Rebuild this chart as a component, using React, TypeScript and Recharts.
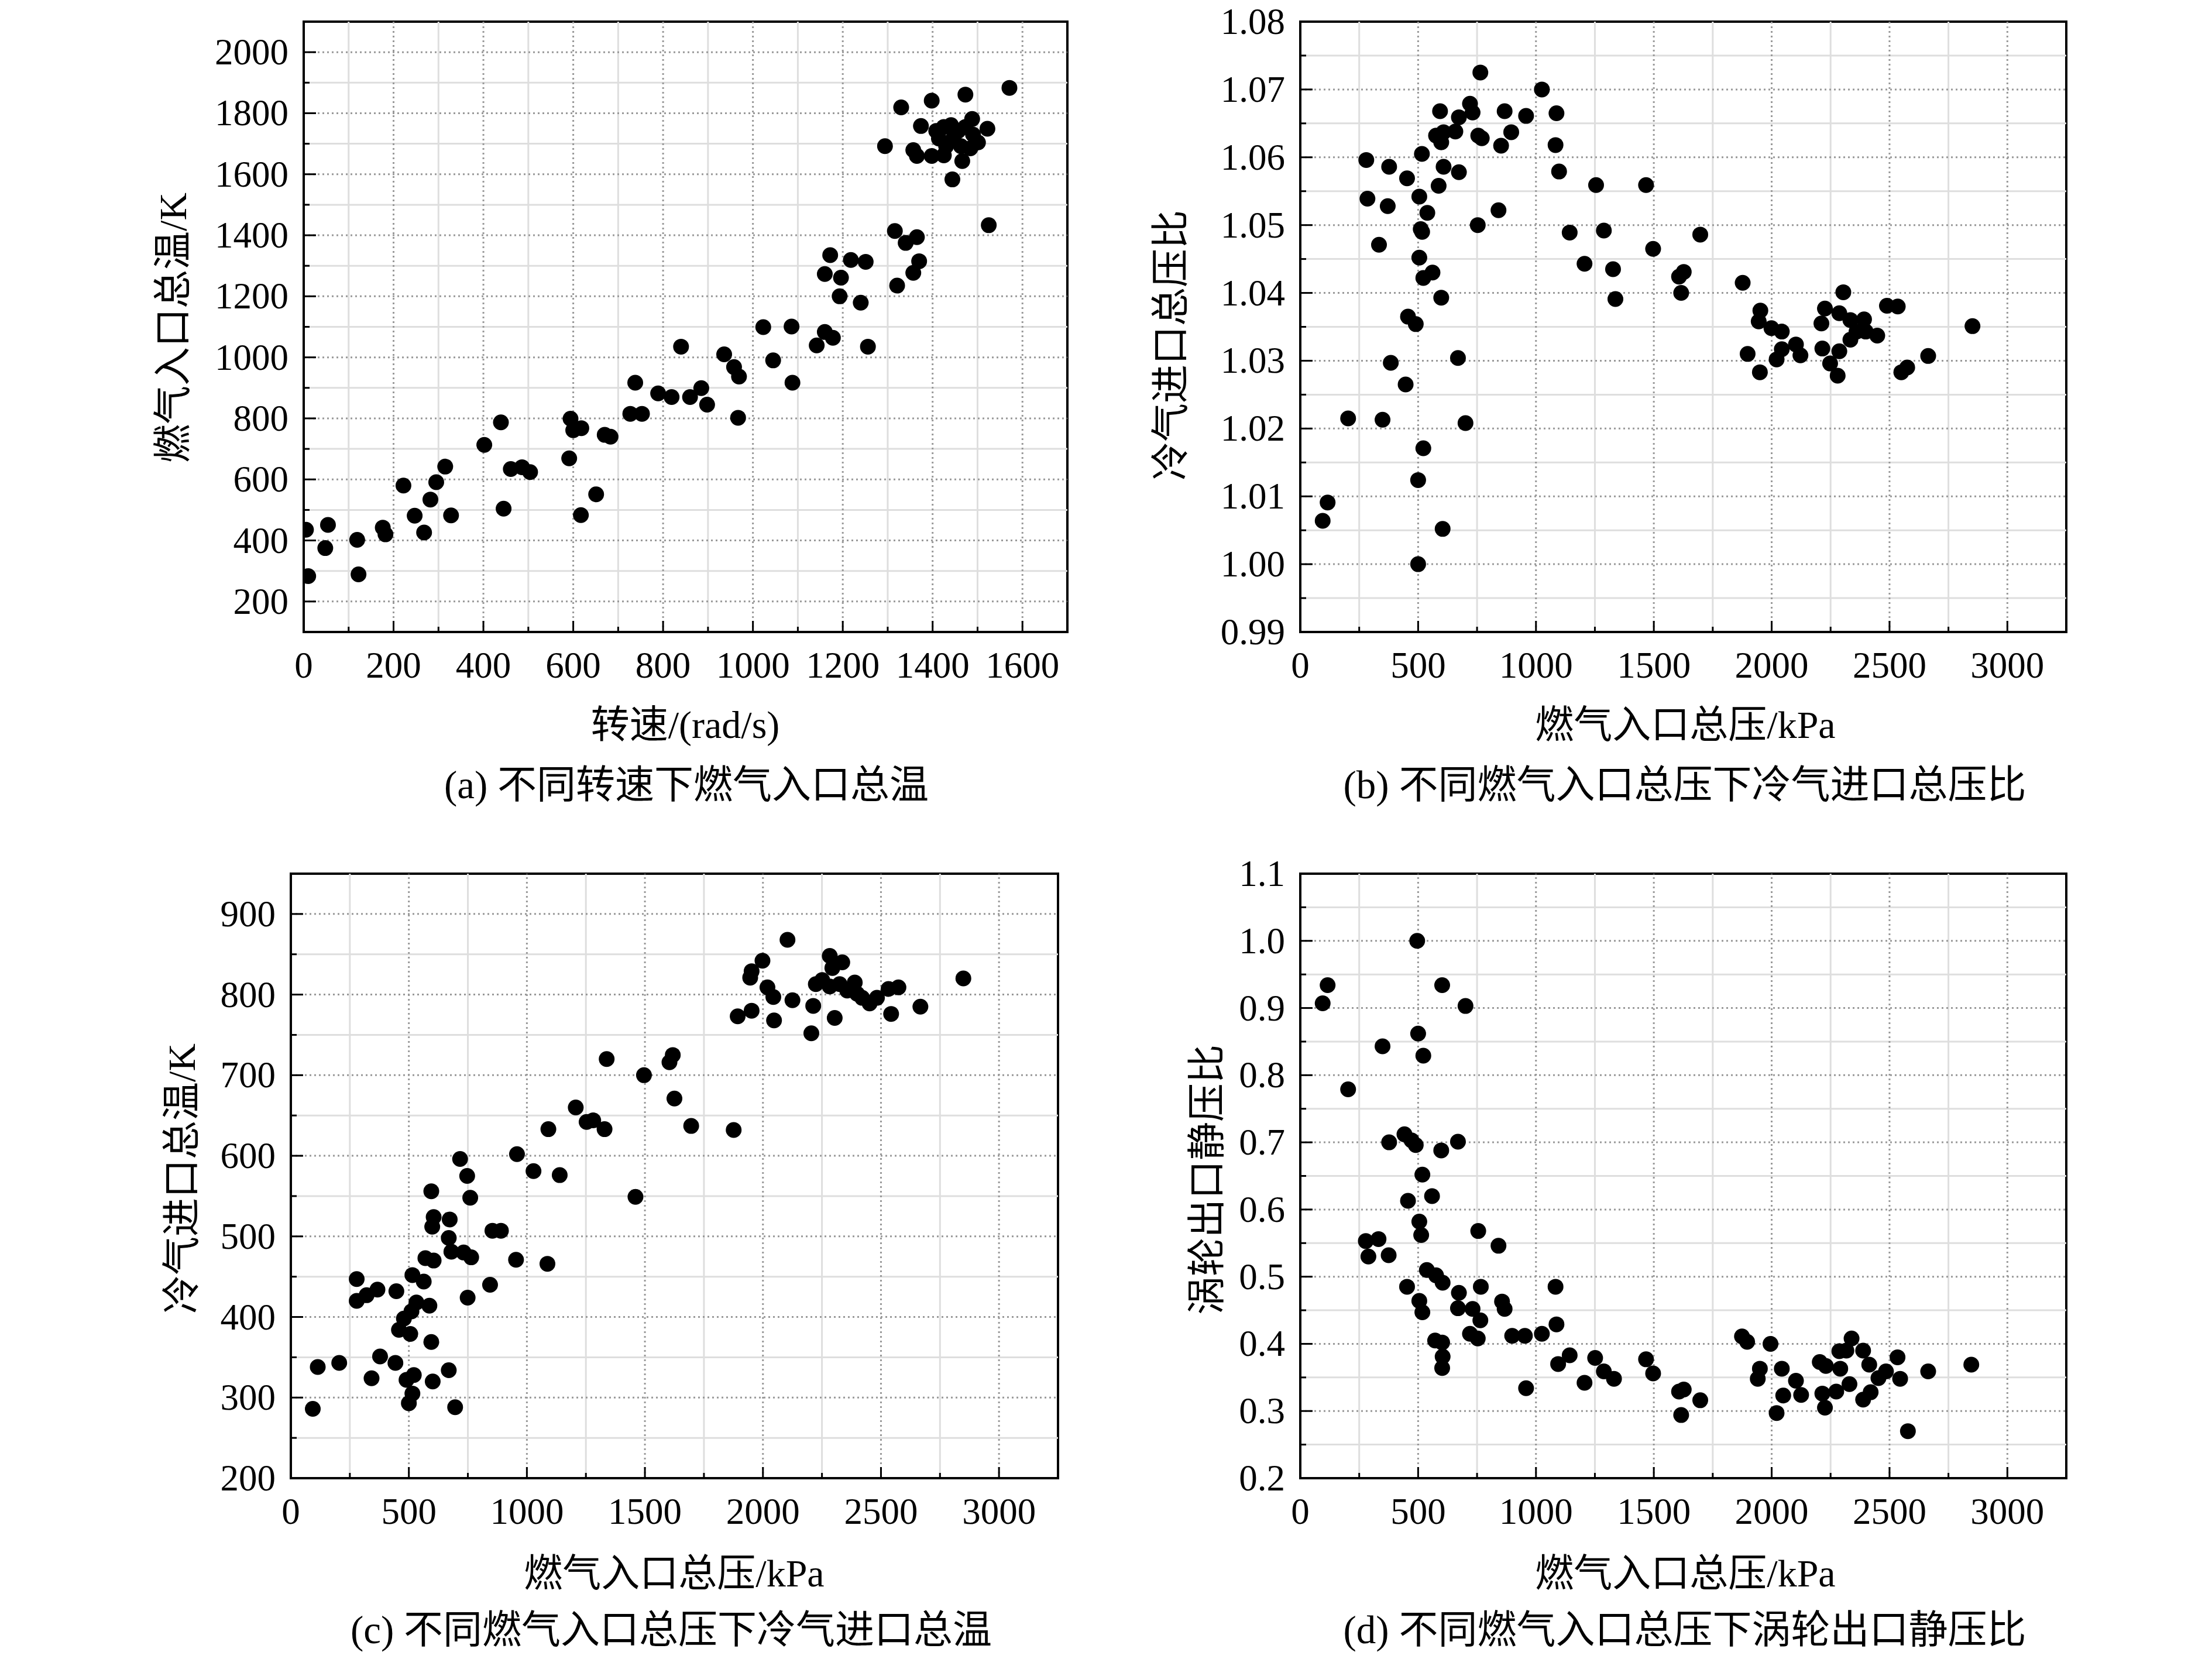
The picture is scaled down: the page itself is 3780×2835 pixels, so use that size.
import React from 'react';
import { ScatterChart, Scatter, XAxis, YAxis, ReferenceLine, ReferenceArea } from 'recharts';

const FONT = "'Liberation Serif', 'Times New Roman', 'Noto Sans CJK SC', serif";

// ---------- Panel (a): speed vs gas inlet total temperature ----------
const speedA = [5, 10, 54, 48, 119, 122, 176, 182, 222, 247, 268, 282, 295, 315, 328, 402, 439, 445, 461, 486, 504, 591, 594, 600, 618, 617, 651, 670, 683, 727, 738, 753, 789, 819, 840, 860, 885, 898, 936, 958, 969, 967, 1023, 1045, 1086, 1088, 1142, 1160, 1178, 1256, 1160, 1172, 1196, 1193, 1218, 1251, 1240, 1294, 1316, 1321, 1340, 1365, 1370, 1357, 1330, 1398, 1473, 1571, 1374, 1357, 1365, 1398, 1425, 1444, 1466, 1522, 1525, 1408, 1425, 1441, 1457, 1473, 1488, 1490, 1501, 1414, 1446, 1463, 1484, 1430];
const gasTempA = [435, 283, 451, 375, 402, 289, 442, 420, 580, 481, 426, 534, 591, 642, 482, 713, 787, 504, 634, 640, 624, 669, 799, 761, 768, 483, 551, 746, 740, 815, 917, 815, 882, 870, 1035, 870, 899, 845, 1010, 968, 937, 802, 1099, 990, 1101, 917, 1039, 1083, 1064, 1035, 1273, 1335, 1261, 1200, 1319, 1313, 1179, 1692, 1414, 1235, 1375, 1394, 1315, 1277, 1819, 1841, 1861, 1883, 1758, 1679, 1660, 1660, 1662, 1583, 1643, 1749, 1433, 1742, 1755, 1761, 1742, 1755, 1781, 1730, 1704, 1717, 1717, 1692, 1685, 1692];

// ---------- Panel (b): gas inlet total pressure vs coolant inlet total pressure ratio ----------
const pressureB = [95, 116, 203, 349, 280, 285, 334, 371, 377, 384, 447, 453, 457, 490, 500, 500, 522, 505, 505, 516, 511, 517, 539, 522, 561, 587, 598, 604, 593, 576, 608, 598, 608, 673, 658, 673, 720, 731, 764, 755, 770, 753, 701, 669, 841, 852, 867, 895, 958, 1025, 1087, 1083, 1098, 1143, 1206, 1255, 1288, 1327, 1337, 1467, 1497, 1607, 1627, 1616, 1697, 1877, 1898, 1952, 1945, 1950, 1999, 2043, 2021, 2043, 2103, 2122, 2211, 2226, 2215, 2248, 2280, 2304, 2287, 2287, 2334, 2334, 2360, 2392, 2399, 2448, 2489, 2535, 2550, 2575, 2664, 2852];
const ratioB = [1.0064, 1.0091, 1.0215, 1.0213, 1.0596, 1.0539, 1.0471, 1.0528, 1.0586, 1.0297, 1.0265, 1.0569, 1.0365, 1.0354, 1.0000, 1.0124, 1.0171, 1.0452, 1.0542, 1.0605, 1.0494, 1.049, 1.0518, 1.0422, 1.043, 1.0558, 1.0393, 1.0052, 1.0668, 1.0632, 1.0637, 1.0622, 1.0586, 1.0578, 1.0638, 1.0659, 1.0679, 1.0666, 1.0725, 1.0632, 1.0628, 1.05, 1.0208, 1.0304, 1.0522, 1.0617, 1.0668, 1.0637, 1.0661, 1.07, 1.0665, 1.0618, 1.0579, 1.0489, 1.0443, 1.0559, 1.0492, 1.0435, 1.0391, 1.0559, 1.0465, 1.0424, 1.0431, 1.04, 1.0486, 1.0415, 1.031, 1.0374, 1.0358, 1.0283, 1.0348, 1.0343, 1.0302, 1.0317, 1.0324, 1.0308, 1.0355, 1.0377, 1.0318, 1.0296, 1.0278, 1.0401, 1.037, 1.0314, 1.036, 1.0331, 1.0343, 1.0361, 1.0343, 1.0337, 1.0381, 1.038, 1.0283, 1.029, 1.0307, 1.0351];

// ---------- Panel (c): gas inlet total pressure vs coolant inlet total temperature ----------
const pressureC = [93, 114, 205, 279, 279, 321, 367, 342, 378, 443, 447, 458, 479, 506, 490, 521, 515, 500, 515, 532, 511, 563, 587, 595, 601, 570, 605, 595, 605, 599, 673, 669, 680, 732, 764, 669, 696, 717, 747, 760, 749, 844, 854, 890, 958, 954, 1028, 1091, 1087, 1139, 1207, 1253, 1281, 1329, 1338, 1460, 1496, 1604, 1618, 1625, 1696, 1876, 1893, 1952, 1946, 1952, 1998, 2019, 2044, 2047, 2104, 2125, 2205, 2213, 2224, 2251, 2283, 2336, 2294, 2304, 2283, 2325, 2357, 2389, 2399, 2420, 2452, 2483, 2532, 2574, 2543, 2667, 2849];
const coolTempC = [286, 338, 343, 447, 420, 427, 434, 324, 351, 343, 432, 384, 398, 379, 322, 328, 305, 293, 452, 418, 407, 444, 414, 369, 320, 473, 470, 556, 524, 512, 521, 498, 481, 480, 474, 334, 288, 596, 575, 548, 424, 440, 507, 507, 602, 471, 581, 633, 466, 576, 660, 642, 644, 633, 720, 549, 700, 716, 725, 671, 637, 632, 773, 780, 821, 829, 842, 809, 797, 768, 868, 793, 752, 786, 813, 818, 848, 840, 833, 771, 810, 813, 805, 815, 801, 796, 789, 796, 807, 809, 776, 785, 820];

// ---------- Panel (d): gas inlet total pressure vs turbine outlet static pressure ratio ----------
const pressureD = [95, 116, 203, 349, 278, 289, 332, 375, 377, 442, 472, 490, 496, 500, 522, 457, 518, 559, 505, 513, 453, 505, 518, 537, 576, 604, 572, 602, 604, 602, 602, 701, 598, 669, 673, 669, 731, 764, 766, 755, 720, 753, 841, 856, 867, 899, 953, 958, 1025, 1083, 1087, 1094, 1143, 1206, 1251, 1288, 1331, 1467, 1497, 1607, 1627, 1616, 1697, 1874, 1896, 1995, 1950, 1941, 2043, 2103, 2049, 2125, 2021, 2204, 2230, 2287, 2317, 2339, 2291, 2215, 2226, 2274, 2330, 2388, 2414, 2388, 2420, 2453, 2485, 2534, 2545, 2578, 2664, 2847];
const staticRatioD = [0.907, 0.934, 0.779, 0.843, 0.553, 0.53, 0.556, 0.532, 0.7, 0.712, 0.703, 0.696, 1.0, 0.862, 0.829, 0.613, 0.652, 0.62, 0.582, 0.562, 0.485, 0.464, 0.447, 0.51, 0.502, 0.491, 0.405, 0.402, 0.381, 0.364, 0.934, 0.903, 0.688, 0.701, 0.476, 0.453, 0.452, 0.435, 0.485, 0.568, 0.415, 0.408, 0.546, 0.463, 0.452, 0.412, 0.412, 0.334, 0.415, 0.485, 0.429, 0.37, 0.383, 0.342, 0.379, 0.359, 0.348, 0.377, 0.356, 0.329, 0.332, 0.294, 0.316, 0.411, 0.403, 0.4, 0.363, 0.348, 0.363, 0.345, 0.323, 0.324, 0.297, 0.373, 0.367, 0.389, 0.39, 0.408, 0.363, 0.326, 0.305, 0.329, 0.34, 0.39, 0.369, 0.317, 0.328, 0.349, 0.359, 0.38, 0.348, 0.27, 0.359, 0.369];

// ---------- Ticks ----------
const speedTicks = [0, 200, 400, 600, 800, 1000, 1200, 1400, 1600];
const speedMinor = [100, 300, 500, 700, 900, 1100, 1300, 1500];
const gasTempTicks = [200, 400, 600, 800, 1000, 1200, 1400, 1600, 1800, 2000];
const gasTempMinor = [300, 500, 700, 900, 1100, 1300, 1500, 1700, 1900];
const pressureTicks = [0, 500, 1000, 1500, 2000, 2500, 3000];
const pressureMinor = [250, 750, 1250, 1750, 2250, 2750];
const ratioTicks = [0.99, 1.0, 1.01, 1.02, 1.03, 1.04, 1.05, 1.06, 1.07, 1.08];
const ratioMinor = [0.995, 1.005, 1.015, 1.025, 1.035, 1.045, 1.055, 1.065, 1.075];
const coolTempTicks = [200, 300, 400, 500, 600, 700, 800, 900];
const coolTempMinor = [250, 350, 450, 550, 650, 750, 850];
const staticTicks = [0.2, 0.3, 0.4, 0.5, 0.6, 0.7, 0.8, 0.9, 1.0, 1.1];
const staticMinor = [0.25, 0.35, 0.45, 0.55, 0.65, 0.75, 0.85, 0.95, 1.05];

// ---------- Texts ----------
const titlesX = ['转速/(rad/s)', '燃气入口总压/kPa', '燃气入口总压/kPa', '燃气入口总压/kPa'];
const titlesY = ['燃气入口总温/K', '冷气进口总压比', '冷气进口总温/K', '涡轮出口静压比'];
const captions = [
  '(a) 不同转速下燃气入口总温',
  '(b) 不同燃气入口总压下冷气进口总压比',
  '(c) 不同燃气入口总压下冷气进口总温',
  '(d) 不同燃气入口总压下涡轮出口静压比',
];

const zip = (xs: number[], ys: number[]) => xs.map((x, i) => ({ x, y: ys[i] }));

const TICK_FONT = 63;
const YW = 300;
const MT = 80;
const MR = 30;
const XH = 200;

const Dot = (props: any) => <circle cx={props.cx} cy={props.cy} r={13.5} fill="#000" />;

function XTick(props: any) {
  const { x, y, payload, majors, fmt } = props;
  const major = majors.includes(payload.value);
  return (
    <g>
      <line x1={x} x2={x} y1={y} y2={y - (major ? 19 : 9)} stroke="#000" strokeWidth={3} />
      {major && (
        <text x={x} y={y + 78} textAnchor="middle" fontSize={TICK_FONT} fontFamily={FONT} fill="#000">
          {fmt(payload.value)}
        </text>
      )}
    </g>
  );
}

function YTick(props: any) {
  const { x, y, payload, majors, fmt } = props;
  const major = majors.includes(payload.value);
  return (
    <g>
      <line x1={x} x2={x + (major ? 21 : 10)} y1={y} y2={y} stroke="#000" strokeWidth={3} />
      {major && (
        <text x={x - 26} y={y + 21} textAnchor="end" fontSize={TICK_FONT} fontFamily={FONT} fill="#000">
          {fmt(payload.value)}
        </text>
      )}
    </g>
  );
}

type PanelProps = {
  l: number; t: number; w: number; h: number;
  xDomain: [number, number]; yDomain: [number, number];
  xMajor: number[]; xMinor: number[]; yMajor: number[]; yMinor: number[];
  xFmt: (v: number) => string; yFmt: (v: number) => string;
  data: { x: number; y: number }[];
};

function Panel(p: PanelProps) {
  const inner = (v: number, d: [number, number]) => Math.abs(v - d[0]) > 1e-9 && Math.abs(v - d[1]) > 1e-9;
  return (
    <div style={{ position: 'absolute', left: p.l - YW, top: p.t - MT }}>
      <ScatterChart width={YW + p.w + MR} height={MT + p.h + XH} margin={{ top: MT, right: MR, bottom: 0, left: 0 }}>
        {p.yMinor.map((v) => (
          <ReferenceLine key={'ym' + v} y={v} stroke="#dedede" strokeWidth={3} />
        ))}
        {p.xMinor.map((v) => (
          <ReferenceLine key={'xm' + v} x={v} stroke="#dedede" strokeWidth={3} />
        ))}
        {p.yMajor.filter((v) => inner(v, p.yDomain)).map((v) => (
          <ReferenceLine key={'yM' + v} y={v} stroke="#999" strokeWidth={3} strokeDasharray="3 5" />
        ))}
        {p.xMajor.filter((v) => inner(v, p.xDomain)).map((v) => (
          <ReferenceLine key={'xM' + v} x={v} stroke="#999" strokeWidth={3} strokeDasharray="3 5" />
        ))}
        <XAxis
          type="number"
          dataKey="x"
          domain={p.xDomain}
          allowDataOverflow
          ticks={[...p.xMajor, ...p.xMinor]}
          interval={0}
          tickLine={false}
          tickSize={0}
          tickMargin={0}
          height={XH}
          axisLine={{ stroke: '#000', strokeWidth: 4 }}
          tick={(tp: any) => <XTick {...tp} majors={p.xMajor} fmt={p.xFmt} />}
        />
        <YAxis
          type="number"
          dataKey="y"
          domain={p.yDomain}
          allowDataOverflow
          ticks={[...p.yMajor, ...p.yMinor]}
          interval={0}
          tickLine={false}
          tickSize={0}
          tickMargin={0}
          width={YW}
          axisLine={{ stroke: '#000', strokeWidth: 4 }}
          tick={(tp: any) => <YTick {...tp} majors={p.yMajor} fmt={p.yFmt} />}
        />
        <ReferenceArea
          x1={p.xDomain[0]}
          x2={p.xDomain[1]}
          y1={p.yDomain[0]}
          y2={p.yDomain[1]}
          fill="none"
          fillOpacity={0}
          stroke="#000"
          strokeWidth={4}
          ifOverflow="visible"
        />
        <Scatter data={p.data} isAnimationActive={false} shape={Dot} />
      </ScatterChart>
    </div>
  );
}

const intFmt = (v: number) => String(Math.round(v));
const fmt2 = (v: number) => v.toFixed(2);
const fmt1 = (v: number) => v.toFixed(1);

export default function App() {
  const panels: PanelProps[] = [
    {
      l: 519, t: 37, w: 1305, h: 1043,
      xDomain: [0, 1700], yDomain: [100, 2100],
      xMajor: speedTicks, xMinor: speedMinor, yMajor: gasTempTicks, yMinor: gasTempMinor,
      xFmt: intFmt, yFmt: intFmt, data: zip(speedA, gasTempA),
    },
    {
      l: 2222, t: 37, w: 1309, h: 1043,
      xDomain: [0, 3250], yDomain: [0.99, 1.08],
      xMajor: pressureTicks, xMinor: pressureMinor, yMajor: ratioTicks, yMinor: ratioMinor,
      xFmt: intFmt, yFmt: fmt2, data: zip(pressureB, ratioB),
    },
    {
      l: 497, t: 1493, w: 1311, h: 1033,
      xDomain: [0, 3250], yDomain: [200, 950],
      xMajor: pressureTicks, xMinor: pressureMinor, yMajor: coolTempTicks, yMinor: coolTempMinor,
      xFmt: intFmt, yFmt: intFmt, data: zip(pressureC, coolTempC),
    },
    {
      l: 2222, t: 1493, w: 1309, h: 1033,
      xDomain: [0, 3250], yDomain: [0.2, 1.1],
      xMajor: pressureTicks, xMinor: pressureMinor, yMajor: staticTicks, yMinor: staticMinor,
      xFmt: intFmt, yFmt: fmt1, data: zip(pressureD, staticRatioD),
    },
  ];

  const xTitlePos = [[1171, 1238], [2880, 1238], [1152, 2688], [2880, 2688]];
  const yTitlePos = [[295, 560], [2000, 590], [310, 2014], [2062, 2016]];
  const captionPos = [[1173, 1341], [2879, 1341], [1147, 2785], [2879, 2785]];

  return (
    <div style={{ position: 'absolute', left: 0, top: 0, width: 3780, height: 2835, background: '#fff', overflow: 'hidden' }}>
      {panels.map((p, i) => (
        <Panel key={i} {...p} />
      ))}
      <svg width={3780} height={2835} style={{ position: 'absolute', left: 0, top: 0, pointerEvents: 'none' }}>
        {titlesX.map((s, i) => (
          <text key={'tx' + i} x={xTitlePos[i][0]} y={xTitlePos[i][1]} textAnchor="middle" dominantBaseline="central" fontSize={66} fontFamily={FONT} fill="#000">
            {s}
          </text>
        ))}
        {titlesY.map((s, i) => (
          <text
            key={'ty' + i}
            x={yTitlePos[i][0]}
            y={yTitlePos[i][1]}
            textAnchor="middle"
            dominantBaseline="central"
            fontSize={66}
            fontFamily={FONT}
            fill="#000"
            transform={`rotate(-90 ${yTitlePos[i][0]} ${yTitlePos[i][1]})`}
          >
            {s}
          </text>
        ))}
        {captions.map((s, i) => (
          <text key={'cp' + i} x={captionPos[i][0]} y={captionPos[i][1]} textAnchor="middle" dominantBaseline="central" fontSize={67} fontFamily={FONT} fill="#000">
            {s}
          </text>
        ))}
      </svg>
    </div>
  );
}
